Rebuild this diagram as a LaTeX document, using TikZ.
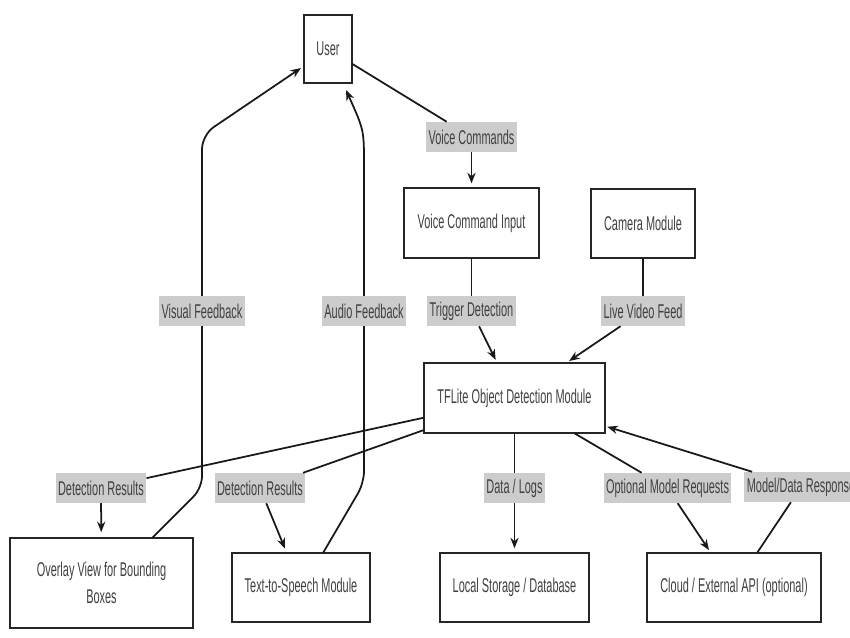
\documentclass[tikz,border=0pt]{standalone}
\usepackage{fontspec}
\setmainfont{Liberation Sans}[FakeStretch=0.55]
\usetikzlibrary{arrows.meta,positioning}

\begin{document}
\begin{tikzpicture}[x=0.03cm,y=-0.03cm,>={Stealth[length=9pt,width=7pt]},
    font=\fontsize{17}{23}\selectfont,text=black!75,
    modbox/.style={draw=black!85,line width=1.6pt,fill=white,align=center,
      inner sep=2pt,outer sep=0pt},
    flowlbl/.style={fill=black!20,inner xsep=2pt,inner ysep=0pt,
      minimum height=0.9cm},
    flow/.style={line width=1.5pt,draw=black!90}]

  \useasboundingbox (0,0) rectangle (850,637);

  % Modules.
  \node[modbox,minimum width=1.44cm,minimum height=2.04cm] (user) at (328,49) {User};
  \node[modbox,minimum width=4.05cm,minimum height=2.1cm] (vci) at (471.5,223) {Voice Command Input};
  \node[modbox,minimum width=3.12cm,minimum height=2.07cm] (cam) at (643,223.5) {Camera Module};
  \node[modbox,minimum width=5.43cm,minimum height=2.1cm] (tfl) at (514.5,398) {TFLite Object Detection Module};
  \node[modbox,minimum width=5.49cm,minimum height=2.7cm] (overlay) at (101.5,583) {Overlay View for Bounding\\Boxes};
  \node[modbox,minimum width=4.14cm,minimum height=2.07cm] (tts) at (301,587.5) {Text-to-Speech Module};
  \node[modbox,minimum width=4.47cm,minimum height=2.07cm] (local) at (514.5,587.5) {Local Storage / Database};
  \node[modbox,minimum width=5.22cm,minimum height=2.07cm] (cloud) at (734,587.5) {Cloud / External API (optional)};

  % Labels sitting on the connectors.
  \node[flowlbl] (lblVoice) at (471.5,137) {Voice Commands};
  \node[flowlbl] (lblVisual) at (202,311) {Visual Feedback};
  \node[flowlbl] (lblAudio) at (364,311) {Audio Feedback};
  \node[flowlbl] (lblTrigger) at (471.5,311) {Trigger Detection};
  \node[flowlbl] (lblLive) at (643,311) {Live Video Feed};
  \node[flowlbl] (lblDet1) at (101,488) {Detection Results};
  \node[flowlbl] (lblDet2) at (260,488) {Detection Results};
  \node[flowlbl] (lblData) at (514.5,488) {Data / Logs};
  \node[flowlbl] (lblOpt) at (667.5,488) {Optional Model Requests};
  \node[flowlbl] (lblResp) at (801,487) {Model/Data Response};

  % Bend points of the feedback lines.
  \coordinate (visStart) at (152,538);
  \coordinate (visLow) at (202,488);
  \coordinate (visHigh) at (202,135);
  \coordinate (visEnd) at (301,68);
  \coordinate (audStart) at (323,553);
  \coordinate (audLow) at (364,483);
  \coordinate (audHigh) at (364,165);
  \coordinate (audEnd) at (346,90);

  % Straight connectors.
  \draw[flow] (user) -- (lblVoice);
  \draw[flow,->,shorten >=4pt] (lblVoice) -- (vci);
  \draw[flow] (vci) -- (lblTrigger);
  \draw[flow,->,shorten >=3pt] (lblTrigger) -- (tfl);
  \draw[flow] (cam) -- (lblLive);
  \draw[flow,->,shorten >=3pt] (lblLive) -- (tfl);
  \draw[flow] (tfl) -- (lblDet1);
  \draw[flow,->,shorten >=5pt] (lblDet1) -- (overlay);
  \draw[flow] (tfl) -- (lblDet2);
  \draw[flow,->,shorten >=4pt] (lblDet2) -- (tts);
  \draw[flow] (tfl) -- (lblData);
  \draw[flow,->,shorten >=4pt] (lblData) -- (local);
  \draw[flow] (tfl) -- (lblOpt);
  \draw[flow,->,shorten >=3pt] (lblOpt) -- (cloud);
  \draw[flow] (cloud) -- (lblResp);
  \draw[flow,->,shorten >=2pt] (lblResp) -- (tfl);

  % Feedback back to the user.
  \draw[flow,rounded corners=10pt] (visStart) -- (visLow) -- (lblVisual);
  \draw[flow,->,rounded corners=12pt] (lblVisual) -- (visHigh) -- (visEnd);
  \draw[flow,rounded corners=10pt] (audStart) -- (audLow) -- (lblAudio);
  \draw[flow,->] (lblAudio) -- (audHigh) .. controls (364,130) .. (audEnd);
\end{tikzpicture}
\end{document}
